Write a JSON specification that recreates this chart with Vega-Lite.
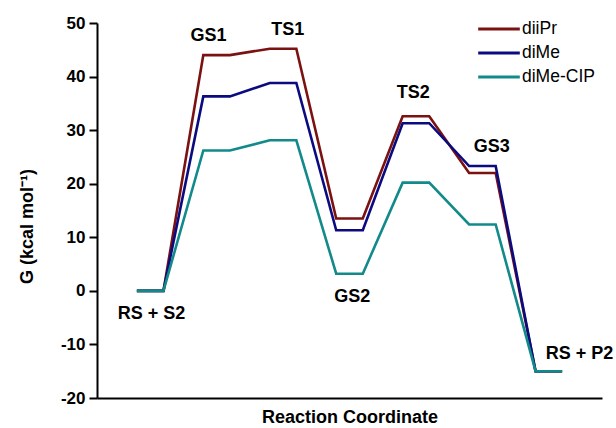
{
  "$schema": "https://vega.github.io/schema/vega-lite/v6.json",
  "width": 505,
  "height": 375,
  "autosize": {"type": "none"},
  "padding": {"left": 97, "top": 23, "right": 14, "bottom": 30},
  "background": "white",
  "config": {
    "view": {"stroke": null},
    "font": "Liberation Sans"
  },
  "datasets": {
    "lines": [
      {"series": "diiPr", "x": 0, "G": 0}, {"series": "diiPr", "x": 2, "G": 0},
      {"series": "diiPr", "x": 5, "G": 44.0}, {"series": "diiPr", "x": 7, "G": 44.0},
      {"series": "diiPr", "x": 10, "G": 45.2}, {"series": "diiPr", "x": 12, "G": 45.2},
      {"series": "diiPr", "x": 15, "G": 13.5}, {"series": "diiPr", "x": 17, "G": 13.5},
      {"series": "diiPr", "x": 20, "G": 32.6}, {"series": "diiPr", "x": 22, "G": 32.6},
      {"series": "diiPr", "x": 25, "G": 22.0}, {"series": "diiPr", "x": 27, "G": 22.0},
      {"series": "diiPr", "x": 30, "G": -15.0}, {"series": "diiPr", "x": 32, "G": -15.0},
      {"series": "diMe", "x": 0, "G": 0}, {"series": "diMe", "x": 2, "G": 0},
      {"series": "diMe", "x": 5, "G": 36.3}, {"series": "diMe", "x": 7, "G": 36.3},
      {"series": "diMe", "x": 10, "G": 38.8}, {"series": "diMe", "x": 12, "G": 38.8},
      {"series": "diMe", "x": 15, "G": 11.3}, {"series": "diMe", "x": 17, "G": 11.3},
      {"series": "diMe", "x": 20, "G": 31.3}, {"series": "diMe", "x": 22, "G": 31.3},
      {"series": "diMe", "x": 25, "G": 23.3}, {"series": "diMe", "x": 27, "G": 23.3},
      {"series": "diMe", "x": 30, "G": -15.0}, {"series": "diMe", "x": 32, "G": -15.0},
      {"series": "diMe-CIP", "x": 0, "G": 0}, {"series": "diMe-CIP", "x": 2, "G": 0},
      {"series": "diMe-CIP", "x": 5, "G": 26.2}, {"series": "diMe-CIP", "x": 7, "G": 26.2},
      {"series": "diMe-CIP", "x": 10, "G": 28.1}, {"series": "diMe-CIP", "x": 12, "G": 28.1},
      {"series": "diMe-CIP", "x": 15, "G": 3.2}, {"series": "diMe-CIP", "x": 17, "G": 3.2},
      {"series": "diMe-CIP", "x": 20, "G": 20.2}, {"series": "diMe-CIP", "x": 22, "G": 20.2},
      {"series": "diMe-CIP", "x": 25, "G": 12.4}, {"series": "diMe-CIP", "x": 27, "G": 12.4},
      {"series": "diMe-CIP", "x": 30, "G": -15.0}, {"series": "diMe-CIP", "x": 32, "G": -15.0}
    ],
    "labels": [
      {"label": "RS + S2", "x": 1.1, "G": -4.4},
      {"label": "GS1", "x": 5.4, "G": 47.6},
      {"label": "TS1", "x": 11.35, "G": 48.7},
      {"label": "GS2", "x": 16.2, "G": -1.1},
      {"label": "TS2", "x": 20.8, "G": 36.9},
      {"label": "GS3", "x": 26.7, "G": 26.8},
      {"label": "RS + P2", "x": 33.3, "G": -11.7}
    ]
  },
  "layer": [
    {
      "data": {"name": "lines"},
      "mark": {"type": "line", "strokeWidth": 2.6, "clip": false},
      "encoding": {
        "x": {
          "field": "x", "type": "quantitative",
          "scale": {"domain": [-3, 35], "nice": false, "zero": false},
          "axis": {
            "title": "Reaction Coordinate",
            "titleFont": "Liberation Sans", "titleFontSize": 18, "titleFontWeight": "bold",
            "titleColor": "black", "titlePadding": 10,
            "labels": false, "ticks": false, "grid": false,
            "domainColor": "black", "domainWidth": 2
          }
        },
        "y": {
          "field": "G", "type": "quantitative",
          "scale": {"domain": [-20, 50], "nice": false, "zero": false},
          "axis": {
            "title": "G (kcal mol⁻¹)",
            "titleFont": "Liberation Sans", "titleFontSize": 18, "titleFontWeight": "bold",
            "titleColor": "black",
            "titleX": -70, "titleY": 203, "titleAngle": -90, "titleAlign": "center", "titleBaseline": "middle",
            "values": [-20, -10, 0, 10, 20, 30, 40, 50],
            "labelExpr": "'' + datum.value",
            "labelFont": "Liberation Sans", "labelFontSize": 17, "labelFontWeight": "bold",
            "labelColor": "black", "labelPadding": 4,
            "tickColor": "black", "tickWidth": 2, "tickSize": 8,
            "domainColor": "black", "domainWidth": 2, "grid": false
          }
        },
        "color": {
          "field": "series", "type": "nominal",
          "sort": ["diiPr", "diMe", "diMe-CIP"],
          "scale": {"domain": ["diiPr", "diMe", "diMe-CIP"], "range": ["#7b1111", "#0b0b80", "#138a8a"]},
          "legend": {
            "title": null, "orient": "none", "legendX": 390, "legendY": -6,
            "symbolType": "M-2,0H2", "symbolSize": 433, "symbolStrokeWidth": 3,
            "labelFont": "Liberation Sans", "labelFontSize": 17.5, "labelColor": "black",
            "rowPadding": 3, "labelOffset": 11
          }
        },
        "order": {"field": "x", "type": "quantitative"}
      }
    },
    {
      "data": {"name": "labels"},
      "mark": {"type": "text", "font": "Liberation Sans", "fontSize": 18, "fontWeight": "bold", "color": "black", "align": "center", "baseline": "middle"},
      "encoding": {
        "x": {"field": "x", "type": "quantitative"},
        "y": {"field": "G", "type": "quantitative"},
        "text": {"field": "label"}
      }
    }
  ]
}
